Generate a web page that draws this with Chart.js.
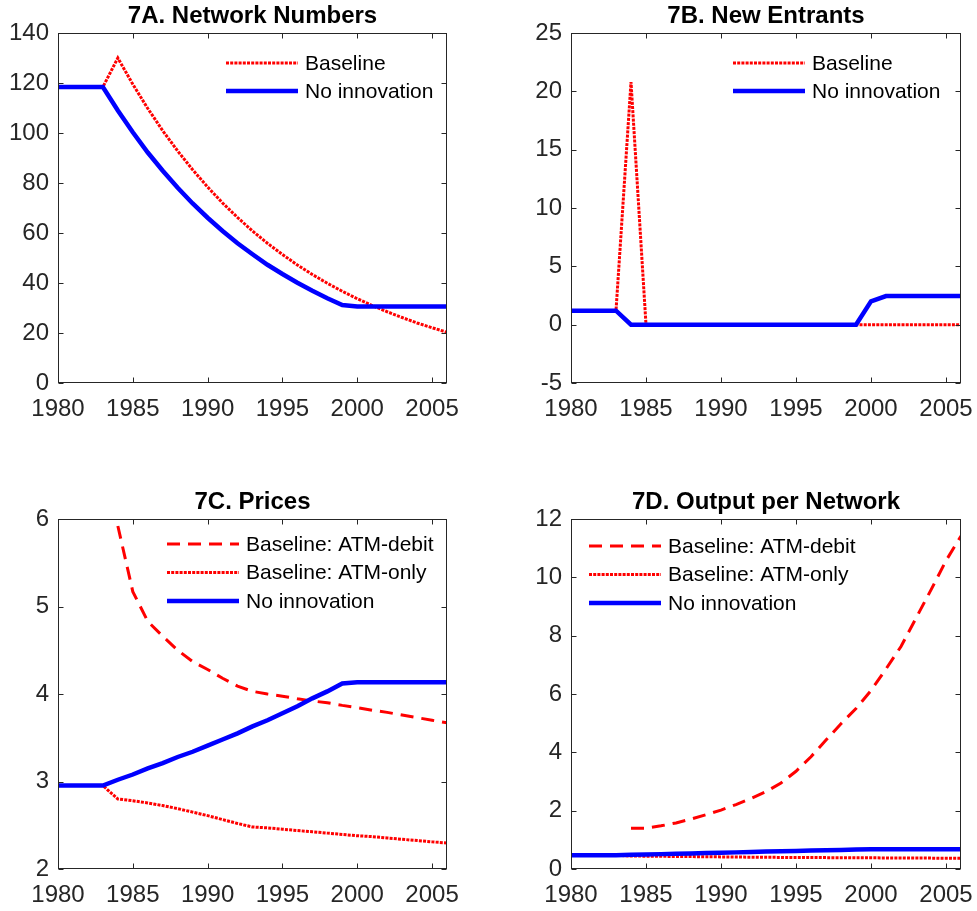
<!DOCTYPE html>
<html>
<head>
<meta charset="utf-8">
<script src="https://cdn.jsdelivr.net/npm/chart.js@4.4.0/dist/chart.umd.min.js"></script>
<style>
  body { margin: 0; background: #fff; overflow: hidden; }
  #wrap { position: relative; width: 977px; height: 911px; }
  canvas { position: absolute; }
</style>
</head>
<body>
<div id="wrap">
  <canvas id="chartA" width="488" height="455" style="left:0;top:0"></canvas>
  <canvas id="chartB" width="489" height="455" style="left:488px;top:0"></canvas>
  <canvas id="chartC" width="488" height="456" style="left:0;top:455px"></canvas>
  <canvas id="chartD" width="489" height="456" style="left:488px;top:455px"></canvas>
</div>
<script>
// years on the x axis
var years = [1980, 1981, 1982, 1983, 1984, 1985, 1986, 1987, 1988, 1989,
             1990, 1991, 1992, 1993, 1994, 1995, 1996, 1997, 1998, 1999,
             2000, 2001, 2002, 2003, 2004, 2005, 2006];
var xTicks = [1980, 1985, 1990, 1995, 2000, 2005];

// 7A. Network Numbers
var netBaseline = [118.4, 118.4, 118.4, 118.4, 130, 119.5, 109.8, 100.9, 92.8, 85.3,
                   78.4, 72, 66.2, 60.8, 55.9, 51.4, 47.2, 43.4, 39.9, 36.7,
                   33.7, 31, 28.5, 26.2, 24, 22.1, 20.3];
var netNoInnov = [118.4, 118.4, 118.4, 118.4, 109, 100.3, 92.2, 84.9, 78.1, 71.8,
                  66.1, 60.8, 55.9, 51.5, 47.3, 43.6, 40.1, 36.9, 33.9, 31.2,
                  30.6, 30.6, 30.6, 30.6, 30.6, 30.6, 30.6];

// 7B. New Entrants
var entBaseline = [1.2, 1.2, 1.2, 1.2, 20.8, 0, 0, 0, 0, 0,
                   0, 0, 0, 0, 0, 0, 0, 0, 0, 0,
                   0, 0, 0, 0, 0, 0, 0];
var entNoInnov = [1.2, 1.2, 1.2, 1.2, 0, 0, 0, 0, 0, 0,
                  0, 0, 0, 0, 0, 0, 0, 0, 0, 0,
                  2.0, 2.45, 2.45, 2.45, 2.45, 2.45, 2.45];

// 7C. Prices
var priceDebit = [null, null, null, null, 5.92, 5.17, 4.83, 4.66, 4.50, 4.37,
                  4.28, 4.18, 4.09, 4.03, 4.00, 3.975, 3.945, 3.92, 3.90, 3.87,
                  3.845, 3.815, 3.79, 3.76, 3.73, 3.70, 3.67];
var priceOnly = [2.953, 2.953, 2.953, 2.953, 2.80, 2.78, 2.755, 2.725, 2.69, 2.65,
                 2.61, 2.565, 2.52, 2.48, 2.47, 2.455, 2.44, 2.425, 2.41, 2.395,
                 2.38, 2.37, 2.355, 2.34, 2.325, 2.31, 2.298];
var priceNoInnov = [2.953, 2.953, 2.953, 2.953, 3.02, 3.08, 3.15, 3.21, 3.28, 3.34,
                    3.41, 3.48, 3.55, 3.63, 3.70, 3.78, 3.86, 3.95, 4.03, 4.12,
                    4.135, 4.135, 4.135, 4.135, 4.135, 4.135, 4.135];

// 7D. Output per Network
var outDebit = [null, null, null, null, 1.40, 1.40, 1.48, 1.58, 1.71, 1.86,
                2.02, 2.21, 2.42, 2.65, 2.95, 3.35, 3.85, 4.42, 4.98, 5.50,
                6.12, 6.86, 7.63, 8.60, 9.57, 10.57, 11.42];
var outOnly = [0.47, 0.47, 0.47, 0.47, 0.445, 0.44, 0.435, 0.43, 0.425, 0.42,
               0.415, 0.41, 0.405, 0.40, 0.398, 0.395, 0.393, 0.39, 0.388, 0.385,
               0.383, 0.38, 0.378, 0.375, 0.373, 0.37, 0.368];
var outNoInnov = [0.47, 0.47, 0.47, 0.47, 0.485, 0.50, 0.51, 0.52, 0.535, 0.55,
                  0.56, 0.57, 0.585, 0.60, 0.61, 0.62, 0.635, 0.645, 0.655, 0.67,
                  0.675, 0.675, 0.675, 0.675, 0.675, 0.675, 0.675];

var RED = 'rgb(255,0,0)';
var BLUE = 'rgb(0,0,255)';
var AXIS = '#262626';
Chart.defaults.font.family = '"Liberation Sans", Arial, Helvetica, sans-serif';

function pts(vals) {
    return years.map(function (yr, i) { return { x: yr, y: vals[i] }; });
}

function dotted(label, vals) {
    return { label: label, data: pts(vals), borderColor: RED, borderWidth: 3,
             borderDash: [3, 1.2], pointRadius: 0, order: 2 };
}
function dashed(label, vals) {
    return { label: label, data: pts(vals), borderColor: RED, borderWidth: 3,
             borderDash: [13, 8], pointRadius: 0, order: 3 };
}
function solid(label, vals) {
    return { label: label, data: pts(vals), borderColor: BLUE, borderWidth: 4.5,
             pointRadius: 0, order: 1 };
}

// box, inward ticks, title and legend drawn like the original figure
var frameAndLegend = {
    id: 'frameAndLegend',
    afterDatasetsDraw: function (chart, args, opts) {
        var ctx = chart.ctx, a = chart.chartArea;
        var xs = chart.scales.x, ys = chart.scales.y;
        var l = Math.round(a.left) + 0.5, r = Math.round(a.right) - 0.5;
        var t = Math.round(a.top) + 0.5, b = Math.round(a.bottom) - 0.5;
        ctx.save();
        ctx.strokeStyle = AXIS;
        ctx.lineWidth = 1;
        ctx.setLineDash([]);
        ctx.strokeRect(l, t, r - l, b - t);
        ctx.beginPath();
        xs.ticks.forEach(function (tk) {
            var px = Math.round(xs.getPixelForValue(tk.value)) + 0.5;
            ctx.moveTo(px, b); ctx.lineTo(px, b - 5);
            ctx.moveTo(px, t); ctx.lineTo(px, t + 5);
        });
        ys.ticks.forEach(function (tk) {
            var py = Math.round(ys.getPixelForValue(tk.value)) + 0.5;
            ctx.moveTo(l, py); ctx.lineTo(l + 5, py);
            ctx.moveTo(r, py); ctx.lineTo(r - 5, py);
        });
        ctx.stroke();

        // title
        ctx.fillStyle = '#000';
        ctx.font = 'bold 24px ' + Chart.defaults.font.family;
        ctx.textAlign = 'center';
        ctx.textBaseline = 'alphabetic';
        ctx.fillText(opts.title, (a.left + a.right) / 2, a.top - 10);

        // legend inside the axes, no box
        ctx.font = '21px ' + Chart.defaults.font.family;
        ctx.textAlign = 'left';
        ctx.textBaseline = 'middle';
        chart.data.datasets.forEach(function (ds, i) {
            var x0 = a.left + opts.legendX;
            var y0 = a.top + opts.legendY + i * opts.rowGap;
            ctx.beginPath();
            ctx.strokeStyle = ds.borderColor;
            ctx.lineWidth = ds.borderWidth;
            ctx.setLineDash(ds.borderDash || []);
            ctx.moveTo(x0, y0);
            ctx.lineTo(x0 + 72, y0);
            ctx.stroke();
            ctx.setLineDash([]);
            ctx.fillStyle = '#000';
            ctx.fillText(ds.label, x0 + 79, y0 + 1);
        });
        ctx.restore();
    }
};

function makePanel(id, title, datasets, yMin, yMax, yStep, pad, legend) {
    return new Chart(document.getElementById(id).getContext('2d'), {
        type: 'line',
        data: { datasets: datasets },
        plugins: [frameAndLegend],
        options: {
            responsive: false,
            animation: false,
            layout: { padding: pad },
            plugins: {
                legend: { display: false },
                tooltip: { enabled: false },
                frameAndLegend: { title: title, legendX: legend[0], legendY: legend[1], rowGap: legend[2] }
            },
            scales: {
                x: {
                    type: 'linear', min: 1980, max: 2006,
                    grid: { display: false, drawTicks: false }, border: { display: false },
                    afterBuildTicks: function (s) { s.ticks = xTicks.map(function (v) { return { value: v }; }); },
                    afterFit: function (s) { s.height = 40; s.paddingLeft = 0; s.paddingRight = 0; },
                    ticks: { color: AXIS, font: { size: 24 }, padding: 12, maxRotation: 0,
                             autoSkip: false, callback: function (v) { return String(v); } }
                },
                y: {
                    min: yMin, max: yMax,
                    grid: { display: false, drawTicks: false }, border: { display: false },
                    afterFit: function (s) { s.width = 58; },
                    ticks: { color: AXIS, font: { size: 24 }, padding: 9, stepSize: yStep,
                             includeBounds: false, callback: function (v) { return String(v); } }
                }
            }
        }
    });
}

makePanel('chartA', '7A. Network Numbers',
    [dotted('Baseline', netBaseline), solid('No innovation', netNoInnov)],
    0, 140, 20, { left: 0, right: 41, top: 33, bottom: 32 }, [168, 30, 28]);

makePanel('chartB', '7B. New Entrants',
    [dotted('Baseline', entBaseline), solid('No innovation', entNoInnov)],
    -5, 25, 5, { left: 25, right: 16, top: 33, bottom: 32 }, [162, 30, 28]);

makePanel('chartC', '7C. Prices',
    [dashed('Baseline: ATM-debit', priceDebit), dotted('Baseline: ATM-only', priceOnly),
     solid('No innovation', priceNoInnov)],
    2, 6, 1, { left: 0, right: 41, top: 64, bottom: 2 }, [109, 25, 28.5]);

makePanel('chartD', '7D. Output per Network',
    [dashed('Baseline: ATM-debit', outDebit), dotted('Baseline: ATM-only', outOnly),
     solid('No innovation', outNoInnov)],
    0, 12, 2, { left: 25, right: 16, top: 64, bottom: 2 }, [18, 27, 28.5]);
</script>
</body>
</html>
